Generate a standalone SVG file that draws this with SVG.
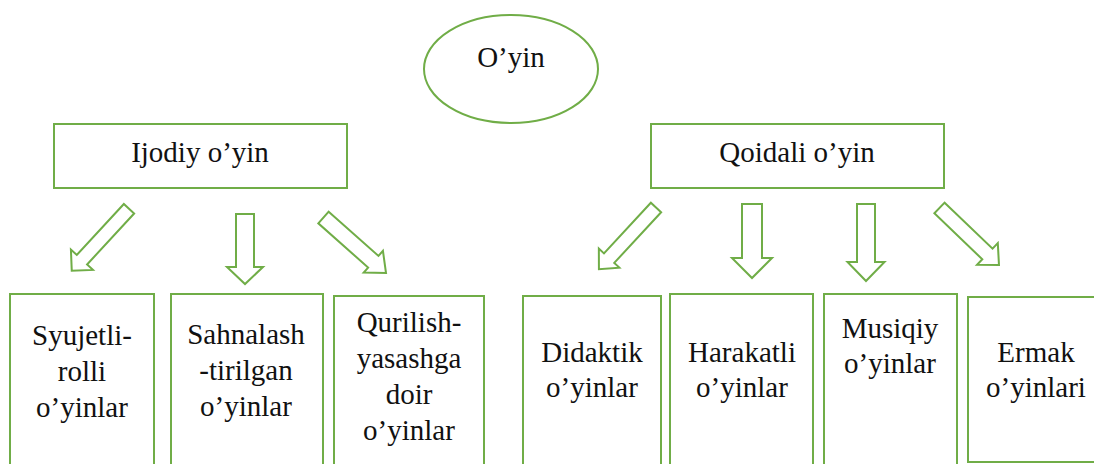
<svg xmlns="http://www.w3.org/2000/svg" width="1094" height="464" viewBox="0 0 1094 464">
<style>
.box{fill:#fff;stroke:#70AD47;stroke-width:2}
.arr{fill:#fff;stroke:#70AD47;stroke-width:2;stroke-linejoin:miter}
.t{font-size:29px;fill:#111;text-anchor:middle}
</style>
<rect width="1094" height="464" fill="#fff"/>
<g font-family="Liberation Serif, Times New Roman, Times, Noto Serif, DejaVu Serif, serif">
<g id="root">
<ellipse class="box" cx="511" cy="69" rx="87" ry="54"/>
<text class="t" x="511" y="67">O’yin</text>
</g>
<g id="ijodiy">
<rect class="box" x="54" y="124" width="293" height="64"/>
<text class="t" x="200" y="162">Ijodiy o’yin</text>
</g>
<g id="qoidali">
<rect class="box" x="651" y="124" width="293" height="64"/>
<text class="t" x="797" y="162">Qoidali o’yin</text>
</g>
<g id="syujetli">
<rect class="box" x="10" y="294" width="144" height="180"/>
<text class="t" x="82" y="345">Syujetli-</text>
<text class="t" x="82" y="381">rolli</text>
<text class="t" x="82" y="417">o’yinlar</text>
</g>
<g id="sahnalash">
<rect class="box" x="171" y="294" width="152" height="180"/>
<text class="t" x="246" y="344">Sahnalash</text>
<text class="t" x="246" y="380">-tirilgan</text>
<text class="t" x="246" y="416">o’yinlar</text>
</g>
<g id="qurilish">
<rect class="box" x="334" y="296" width="150" height="180"/>
<text class="t" x="409" y="332">Qurilish-</text>
<text class="t" x="409" y="368">yasashga</text>
<text class="t" x="409" y="404">doir</text>
<text class="t" x="409" y="440">o’yinlar</text>
</g>
<g id="didaktik">
<rect class="box" x="523" y="296" width="138" height="180"/>
<text class="t" x="592" y="362">Didaktik</text>
<text class="t" x="592" y="397">o’yinlar</text>
</g>
<g id="harakatli">
<rect class="box" x="670" y="294" width="143" height="180"/>
<text class="t" x="742" y="362">Harakatli</text>
<text class="t" x="742" y="397">o’yinlar</text>
</g>
<g id="musiqiy">
<rect class="box" x="824" y="294" width="133" height="180"/>
<text class="t" x="890" y="338">Musiqiy</text>
<text class="t" x="890" y="373">o’yinlar</text>
</g>
<g id="ermak">
<rect class="box" x="968" y="297" width="140" height="165"/>
<text class="t" x="1036" y="362">Ermak</text>
<text class="t" x="1036" y="397">o’yinlari</text>
</g>
</g>
<g id="connectors">
<polygon class="arr" transform="translate(129,208.7) rotate(132.7)" points="0,-7 69.4,-7 69.4,-15 84.4,0 69.4,15 69.4,7 0,7"/>
<polygon class="arr" transform="translate(245,214) rotate(90)" points="0,-9 53,-9 53,-18 70,0 53,18 53,9 0,9"/>
<polygon class="arr" transform="translate(323.5,217.5) rotate(41.6)" points="0,-7.8 66.6,-7.8 66.6,-14.5 83.6,0 66.6,14.5 66.6,7.8 0,7.8"/>
<polygon class="arr" transform="translate(656,207.5) rotate(132.8)" points="0,-7 69,-7 69,-14 84,0 69,14 69,7 0,7"/>
<polygon class="arr" transform="translate(752,204) rotate(90)" points="0,-10 54,-10 54,-20 74,0 54,20 54,10 0,10"/>
<polygon class="arr" transform="translate(866,204) rotate(90)" points="0,-9 58,-9 58,-18.5 77,0 58,18.5 58,9 0,9"/>
<polygon class="arr" transform="translate(939.5,208) rotate(43.8)" points="0,-7.4 66.4,-7.4 66.4,-15 82.4,0 66.4,15 66.4,7.4 0,7.4"/>
</g>
</svg>
